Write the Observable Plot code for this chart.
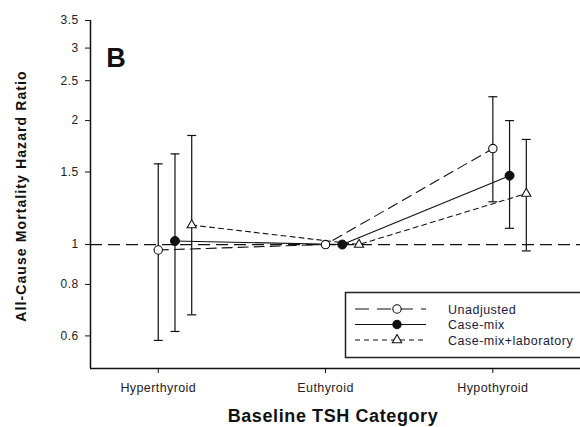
<!DOCTYPE html>
<html>
<head>
<meta charset="utf-8">
<script src="https://cdn.jsdelivr.net/npm/d3@7"></script>
<script src="https://cdn.jsdelivr.net/npm/@observablehq/plot@0.6"></script>
<style>
  html, body { margin: 0; padding: 0; background: #fff; overflow: hidden; }
  #wrap { position: relative; width: 580px; height: 427px; overflow: hidden; font-family: "Liberation Sans", Arial, sans-serif; }
  #legend { position: absolute; left: 0; top: 0; }
</style>
</head>
<body>
<div id="wrap"></div>
<script>
// ---- data ----
const categories = ["Hyperthyroid", "Euthyroid", "Hypothyroid"];
const seriesNames = ["Unadjusted", "Case-mix", "Case-mix+laboratory"];
const unadjHR = [0.97, 1.0, 1.71];
const unadjLo = [0.585, null, 1.27];
const unadjHi = [1.57, null, 2.285];
const casemixHR = [1.02, 1.0, 1.47];
const casemixLo = [0.615, null, 1.095];
const casemixHi = [1.66, null, 2.0];
const labHR = [1.115, 1.0, 1.33];
const labLo = [0.675, null, 0.965];
const labHi = [1.84, null, 1.80];
const yTicks = [0.6, 0.8, 1, 1.5, 2, 2.5, 3, 3.5];

// ---- build table ----
const seriesData = [
  [unadjHR, unadjLo, unadjHi],
  [casemixHR, casemixLo, casemixHi],
  [labHR, labLo, labHi]
];
const rows = [];
seriesData.forEach(([hr, lo, hi], k) => {
  categories.forEach((c, i) => {
    rows.push({series: seriesNames[k], k, cat: c, x: i + 0.1 * k, hr: hr[i], lo: lo[i], hi: hi[i]});
  });
});
const bars = rows.filter(d => d.lo != null);
const bySeries = k => rows.filter(d => d.k === k);

const capSymbol = {
  draw(ctx, size) {
    const r = Math.sqrt(size / Math.PI);
    ctx.moveTo(-r, 0);
    ctx.lineTo(r, 0);
  }
};
const dashes = ["10,6", null, "5,4"];

const xDomain = [-0.405, 2.524];
const yDomain = [0.5, 3.5];

const plot = Plot.plot({
  width: 580,
  height: 427,
  marginLeft: 90,
  marginRight: 0,
  marginTop: 20,
  marginBottom: 59,
  style: {fontFamily: "'Liberation Sans', Arial, sans-serif", color: "#222", background: "#fff"},
  x: {type: "linear", domain: xDomain},
  y: {type: "log", domain: yDomain},
  marks: [
    Plot.ruleY([1], {stroke: "#111", strokeWidth: 1.2, strokeDasharray: "12,6"}),
    Plot.ruleX(bars, {x: "x", y1: "lo", y2: "hi", stroke: "#111", strokeWidth: 1.2}),
    Plot.dot(bars, {x: "x", y: "lo", symbol: capSymbol, r: 4.5, stroke: "#111", strokeWidth: 1.2, fill: "none"}),
    Plot.dot(bars, {x: "x", y: "hi", symbol: capSymbol, r: 4.5, stroke: "#111", strokeWidth: 1.2, fill: "none"}),
    ...[0, 1, 2].map(k => Plot.line(bySeries(k), {x: "x", y: "hr", stroke: "#111", strokeWidth: 1.1, strokeDasharray: dashes[k]})),
    Plot.dot(bySeries(0), {x: "x", y: "hr", symbol: "circle", r: 4.2, fill: "white", stroke: "#111", strokeWidth: 1.1}),
    Plot.dot(bySeries(1), {x: "x", y: "hr", symbol: "circle", r: 4.5, fill: "#111", stroke: "#111", strokeWidth: 1}),
    Plot.dot(bySeries(2), {x: "x", y: "hr", symbol: "triangle", r: 3.4, fill: "white", stroke: "#111", strokeWidth: 1.1}),
    Plot.ruleX([xDomain[0]], {stroke: "#111", strokeWidth: 1.5}),
    Plot.ruleY([yDomain[0]], {stroke: "#111", strokeWidth: 1.5}),
    Plot.axisY({ticks: yTicks, tickFormat: d => String(d), tickSize: 5, tickPadding: 7, fontSize: 12, label: null, stroke: "#111"}),
    Plot.axisX({ticks: [0, 1, 2], tickFormat: i => categories[i], tickSize: 5, tickPadding: 10, fontSize: 12.5, label: null, stroke: "#111"})
  ]
});
document.getElementById("wrap").appendChild(plot);

const svg = d3.select(plot);
svg.selectAll("g[aria-label='x-axis tick label'] text, g[aria-label='y-axis tick label'] text")
  .style("letter-spacing", "0.4px");
svg.append("text")
  .attr("transform", "translate(26,196) rotate(-90)")
  .attr("text-anchor", "middle")
  .attr("font-weight", "bold")
  .attr("font-size", 14)
  .attr("letter-spacing", 1.1)
  .attr("fill", "#111")
  .text("All-Cause Mortality Hazard Ratio");
svg.append("text")
  .attr("x", 333).attr("y", 422)
  .attr("text-anchor", "middle")
  .attr("font-weight", "bold")
  .attr("font-size", 18)
  .attr("letter-spacing", 0.6)
  .attr("fill", "#111")
  .text("Baseline TSH Category");
svg.append("text")
  .attr("x", 116).attr("y", 67)
  .attr("font-weight", "bold")
  .attr("font-size", 27)
  .attr("fill", "#111")
  .text("B");

// ---- legend ----
const leg = d3.select("#wrap").append("svg")
  .attr("id", "legend").attr("width", 580).attr("height", 427)
  .style("font-family", "'Liberation Sans', Arial, sans-serif");
leg.append("rect").attr("x", 345.5).attr("y", 292.5).attr("width", 240).attr("height", 65)
  .attr("fill", "white").attr("stroke", "#222").attr("stroke-width", 1.5);
const legY = [309, 324.5, 340];
const legDash = ["14,8", null, "5,4"];
const legSym = [d3.symbolCircle, d3.symbolCircle, d3.symbolTriangle];
const legFill = ["white", "#111", "white"];
seriesNames.forEach((name, k) => {
  const y = legY[k];
  leg.append("line").attr("x1", 355).attr("x2", 426).attr("y1", y).attr("y2", y)
    .attr("stroke", "#111").attr("stroke-width", 1.2).attr("stroke-dasharray", legDash[k]);
  leg.append("path").attr("d", d3.symbol(legSym[k], k === 2 ? 38 : 55)())
    .attr("transform", `translate(397,${y})`)
    .attr("fill", legFill[k]).attr("stroke", "#111").attr("stroke-width", 1.1);
  leg.append("text").attr("x", 448).attr("y", y + 4.5).attr("font-size", 12.5)
    .attr("letter-spacing", 0.5).attr("fill", "#1a1a3a").text(name);
});
</script>
</body>
</html>
